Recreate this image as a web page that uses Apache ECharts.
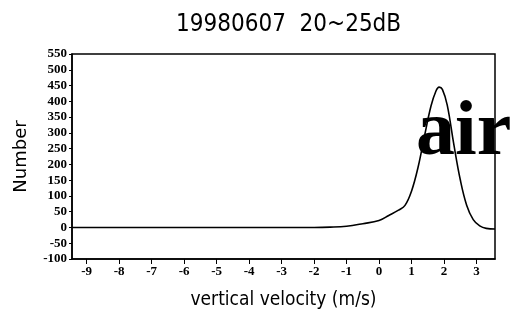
<!DOCTYPE html>
<html>
<head>
<meta charset="utf-8">
<script src="https://cdn.jsdelivr.net/npm/echarts@6/dist/echarts.min.js"></script>
<style>
  body { margin: 0; padding: 0; background: #fff; }
  #chart { width: 512px; height: 329px; }
</style>
</head>
<body>
<div id="chart"></div>
<script>
  // vertical velocity (m/s) and counts
  const velocity = [-9.45, -8, -6, -4, -2, -1.5, -1, -0.5, 0, 0.3, 0.6, 0.8, 1.0, 1.2, 1.4, 1.6, 1.75, 1.85, 1.95, 2.1, 2.3, 2.5, 2.7, 2.9, 3.1, 3.3, 3.57];
  const counts = [0, 0, 0, 0, 0, 1, 4, 12, 22, 38, 55, 70, 115, 190, 290, 385, 432, 445, 438, 388, 265, 152, 70, 25, 5, -3, -5];
  const xTicks = [-9, -8, -7, -6, -5, -4, -3, -2, -1, 0, 1, 2, 3];

  const tickFont = { color: '#000', fontFamily: 'Liberation Sans Narrow', fontWeight: 'bold', fontSize: 13 };

  const chart = echarts.init(document.getElementById('chart'));
  chart.setOption({
    animation: false,
    backgroundColor: '#fff',
    title: {
      text: '19980607  20~25dB',
      left: 171,
      top: 8,
      textStyle: { color: '#000', fontFamily: 'DejaVu Sans Condensed', fontWeight: 'normal', fontSize: 24 }
    },
    grid: { left: 72, right: 17, top: 54, bottom: 70, show: true, borderColor: '#000', borderWidth: 1.5 },
    xAxis: {
      type: 'value',
      min: -9.45,
      max: 3.57,
      name: 'vertical velocity (m/s)',
      nameLocation: 'middle',
      nameGap: 32,
      nameTextStyle: { color: '#000', fontFamily: 'DejaVu Sans Condensed', fontSize: 19 },
      axisLine: { onZero: false, lineStyle: { color: '#000', width: 1.5 } },
      axisTick: { show: true, length: 5, customValues: xTicks, lineStyle: { color: '#000' } },
      axisLabel: { customValues: xTicks, margin: 6, ...tickFont },
      splitLine: { show: false }
    },
    yAxis: {
      type: 'value',
      min: -100,
      max: 550,
      interval: 50,
      name: 'Number',
      nameLocation: 'middle',
      nameGap: 42,
      nameTextStyle: { color: '#000', fontFamily: 'DejaVu Sans', fontSize: 18 },
      axisLine: { onZero: false, lineStyle: { color: '#000', width: 1.5 } },
      axisTick: { show: true, length: 3, lineStyle: { color: '#000' } },
      axisLabel: { margin: 5, ...tickFont },
      splitLine: { show: false }
    },
    series: [{
      type: 'line',
      data: velocity.map((v, i) => [v, counts[i]]),
      smooth: 0.4,
      symbol: 'none',
      lineStyle: { color: '#000', width: 1.6 }
    }],
    graphic: [{
      type: 'text',
      z: 100,
      style: {
        x: 416,
        y: 134,
        text: 'air',
        fill: '#000',
        font: 'bold 78px "Liberation Serif"',
        verticalAlign: 'middle'
      }
    }]
  });
</script>
</body>
</html>
